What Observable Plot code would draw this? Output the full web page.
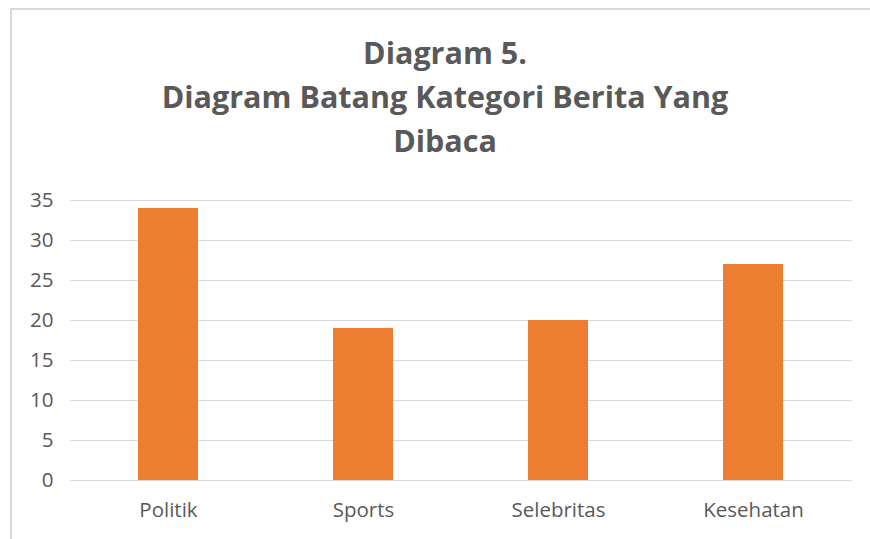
<!DOCTYPE html>
<html>
<head>
<meta charset="utf-8">
<script src="https://cdn.jsdelivr.net/npm/d3@7"></script>
<script src="https://cdn.jsdelivr.net/npm/@observablehq/plot@0.6"></script>
<style>
  html, body { margin: 0; padding: 0; background: #fff; }
  #frame { position: relative; width: 870px; height: 539px; overflow: hidden; font-family: "Open Sans", sans-serif; }
  #frame .bl { position: absolute; left: 10px; top: 8px; width: 2px; height: 531px; background: #d9d9d9; }
  #frame .bt { position: absolute; left: 10px; top: 8px; width: 860px; height: 2px; background: #d9d9d9; }
  #title { position: absolute; left: 0; top: 30px; width: 890px; text-align: center; color: #595959;
           font-weight: bold; font-size: 30.5px; line-height: 44px; }
  #chart { position: absolute; left: 0; top: 180px; }
</style>
</head>
<body>
<div id="frame">
  <div class="bl"></div>
  <div class="bt"></div>
  <div id="title">Diagram 5.<br>Diagram Batang Kategori Berita Yang<br>Dibaca</div>
  <div id="chart"></div>
</div>
<script>
const categories = ["Politik", "Sports", "Selebritas", "Kesehatan"];
const values = [34, 19, 20, 27];
const yTicks = [0, 5, 10, 15, 20, 25, 30, 35];

const data = categories.map((c, i) => ({category: c, value: values[i]}));

const plot = Plot.plot({
  width: 870,
  height: 359,
  marginTop: 20,
  marginBottom: 59,
  marginLeft: 70,
  marginRight: 18,
  style: {fontFamily: "'Open Sans', sans-serif", fontSize: "20.5px", color: "#595959", background: "transparent"},
  x: {domain: categories, paddingInner: 0.69, paddingOuter: 0.345, align: 0.5},
  y: {domain: [0, 35]},
  marks: [
    Plot.gridY(yTicks, {stroke: "#d9d9d9", strokeOpacity: 1, strokeWidth: 1}),
    Plot.barY(data, {x: "category", y: "value", fill: "#ed7d31"}),
    Plot.axisY(yTicks, {tickSize: 0, tickPadding: 17, label: null, fill: "#595959", fontSize: 20.5}),
    Plot.axisX({tickSize: 0, tickPadding: 22, label: null, fill: "#595959", fontSize: 20.5})
  ]
});
document.getElementById("chart").appendChild(plot);
</script>
</body>
</html>
